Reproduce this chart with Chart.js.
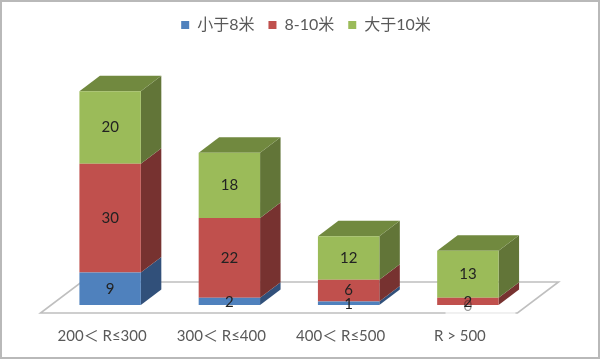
<!DOCTYPE html>
<html>
<head>
<meta charset="utf-8">
<script src="https://cdn.jsdelivr.net/npm/chart.js@4"></script>
<style>
  html, body { margin: 0; background: #fff; }
  #wrap { position: relative; width: 600px; height: 359px; box-sizing: border-box; border: 2px solid #b9b9b9; }
  #wrap canvas { position: absolute; left: -2px; top: -2px; filter: blur(0.4px); }
</style>
</head>
<body>
<div id="wrap"><canvas id="c" width="600" height="359"></canvas></div>
<script>
const categories = ["200\uFF1C R\u2264300", "300\uFF1C R\u2264400", "400\uFF1C R\u2264500", "R > 500"];
const under8 = [9, 2, 1, 0];
const from8to10 = [30, 22, 6, 2];
const over10 = [20, 18, 12, 13];
const seriesNames = ["小于8米", "8-10米", "大于10米"];
const frontColors = ["#4f81bd", "#c0504d", "#9bbb59"];
const sideColors = ["#31507a", "#773230", "#627538"];
const topColors = ["#3c6291", "#8c3b39", "#71893f"];

const depthX = 20.5, depthY = 15.5;
const textFont = "Lato, 'Noto Sans CJK SC', sans-serif";

function poly(ctx, pts, fill, stroke) {
  ctx.beginPath();
  pts.forEach((p, i) => i ? ctx.lineTo(p[0], p[1]) : ctx.moveTo(p[0], p[1]));
  ctx.closePath();
  if (fill) { ctx.fillStyle = fill; ctx.fill(); }
  if (stroke) { ctx.strokeStyle = stroke; ctx.lineWidth = 1.6; ctx.stroke(); }
}

// floor plane and the fake 3d faces behind the bars
const box3d = {
  id: "box3d",
  afterLayout(chart) {
    // legend sits centred on the page, not on the plot
    chart.legend.left += 17;
    chart.legend.right += 17;
  },
  beforeDatasetsDraw(chart) {
    const ctx = chart.ctx;
    const xs = chart.scales.x, y0 = chart.scales.y.getPixelForValue(0);
    ctx.save();
    poly(ctx, [
      [xs.left - 10, y0 + 8],
      [xs.right - 10, y0 + 8],
      [xs.right + 31, y0 - 23],
      [xs.left + 31, y0 - 23]
    ], "#fff", "#bfbfbf");
    // the front edge is washed out under the last bar in the original
    ctx.strokeStyle = "rgba(255,255,255,0.7)";
    ctx.lineWidth = 3;
    ctx.beginPath();
    ctx.moveTo(xs.right - 82, y0 + 8);
    ctx.lineTo(xs.right - 12, y0 + 8);
    ctx.stroke();
    chart.data.datasets.forEach((ds, i) => {
      chart.getDatasetMeta(i).data.forEach(bar => {
        const l = bar.x - bar.width / 2, r = bar.x + bar.width / 2;
        if (bar.base - bar.y < 0.5) return;
        poly(ctx, [[r, bar.base], [r + depthX, bar.base - depthY], [r + depthX, bar.y - depthY], [r, bar.y]], sideColors[i]);
        if (i === chart.data.datasets.length - 1) {
          poly(ctx, [[l, bar.y], [l + depthX, bar.y - depthY], [r + depthX, bar.y - depthY], [r, bar.y]], topColors[i]);
        }
      });
    });
    ctx.restore();
  },
  afterDatasetsDraw(chart) {
    const ctx = chart.ctx;
    ctx.save();
    ctx.font = "15px " + textFont;
    ctx.fillStyle = "#222";
    ctx.textAlign = "center";
    ctx.textBaseline = "middle";
    chart.data.datasets.forEach((ds, i) => {
      chart.getDatasetMeta(i).data.forEach((bar, j) => {
        ctx.globalAlpha = ds.data[j] === 0 ? 0.45 : 1;
        ctx.fillText(ds.data[j], bar.x, (bar.y + bar.base) / 2 + (ds.data[j] < 3 ? 1 : 0));
      });
    });
    ctx.restore();
  }
};

new Chart(document.getElementById("c"), {
  type: "bar",
  data: {
    labels: categories,
    datasets: [
      { label: seriesNames[0], data: under8, backgroundColor: frontColors[0] },
      { label: seriesNames[1], data: from8to10, backgroundColor: frontColors[1] },
      { label: seriesNames[2], data: over10, backgroundColor: frontColors[2] }
    ]
  },
  plugins: [box3d],
  options: {
    responsive: false,
    animation: false,
    barPercentage: 0.515,
    categoryPercentage: 1,
    layout: { padding: { left: 50.5, right: 72.5, top: 3, bottom: 0 } },
    plugins: {
      tooltip: { enabled: false },
      legend: {
        position: "top",
        labels: {
          boxWidth: 8,
          boxHeight: 8,
          padding: 14,
          color: "#595959",
          font: { family: textFont, size: 16 }
        }
      }
    },
    scales: {
      x: {
        stacked: true,
        grid: { display: false },
        border: { display: false },
        ticks: { color: "#595959", font: { family: textFont, size: 15 }, maxRotation: 0, padding: 14, labelOffset: -8 }
      },
      y: { stacked: true, display: false, min: 0, max: 72.3 }
    }
  }
});
</script>
</body>
</html>
